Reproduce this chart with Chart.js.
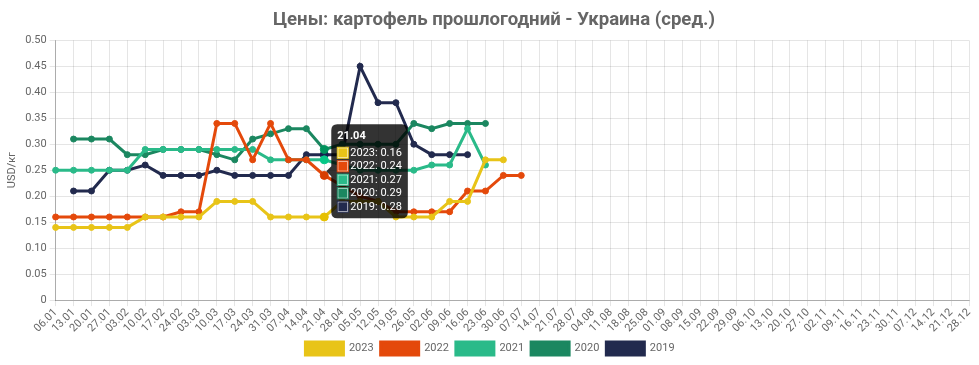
<!DOCTYPE html>
<html>
<head>
<meta charset="utf-8">
<script src="https://cdn.jsdelivr.net/npm/chart.js@4.4.1/dist/chart.umd.min.js"></script>
<style>
html,body{margin:0;padding:0;background:#fff;}
#wrap{width:979px;height:365px;position:relative;}
</style>
</head>
<body>
<div id="wrap"><canvas id="c" width="979" height="365"></canvas></div>
<script>
const categories = ["06.01","13.01","20.01","27.01","03.02","10.02","17.02","24.02","03.03","10.03","17.03","24.03","31.03","07.04","14.04","21.04","28.04","05.05","12.05","19.05","26.05","02.06","09.06","16.06","23.06","30.06","07.07","14.07","21.07","28.07","04.08","11.08","18.08","25.08","01.09","08.09","15.09","22.09","29.09","06.10","13.10","20.10","27.10","02.11","09.11","16.11","23.11","30.11","07.12","14.12","21.12","28.12"];

const yearLabels = ["2023","2022","2021","2020","2019"];

const values2023 = [0.14,0.14,0.14,0.14,0.14,0.16,0.16,0.16,0.16,0.19,0.19,0.19,0.16,0.16,0.16,0.16,0.19,0.19,0.19,0.16,0.16,0.16,0.19,0.19,0.27,0.27];
const values2022 = [0.16,0.16,0.16,0.16,0.16,0.16,0.16,0.17,0.17,0.34,0.34,0.27,0.34,0.27,0.27,0.24,0.22,0.20,0.19,0.17,0.17,0.17,0.17,0.21,0.21,0.24,0.24];
const values2021 = [0.25,0.25,0.25,0.25,0.25,0.29,0.29,0.29,0.29,0.29,0.29,0.29,0.27,0.27,0.27,0.27,0.26,0.25,0.25,0.25,0.25,0.26,0.26,0.33,0.26];
const values2020 = [null,0.31,0.31,0.31,0.28,0.28,0.29,0.29,0.29,0.28,0.27,0.31,0.32,0.33,0.33,0.29,0.30,0.30,0.30,0.30,0.34,0.33,0.34,0.34,0.34];
const values2019 = [null,0.21,0.21,0.25,0.25,0.26,0.24,0.24,0.24,0.25,0.24,0.24,0.24,0.24,0.28,0.28,0.28,0.45,0.38,0.38,0.30,0.28,0.28,0.28];

const yTicks = [0,0.05,0.10,0.15,0.20,0.25,0.30,0.35,0.40,0.45,0.50];

const colors = ["#e8c418","#e4490b","#2aba89","#1b8760","#222a4e"];
const seriesValues = [values2023,values2022,values2021,values2020,values2019];

const datasets = yearLabels.map((lab,i)=>({
  label: lab,
  data: seriesValues[i],
  borderColor: colors[i],
  backgroundColor: colors[i],
  pointBackgroundColor: colors[i],
  pointBorderColor: colors[i],
  borderWidth: 3,
  pointRadius: 3,
  pointHoverRadius: 4,
  pointBorderWidth: 1,
  fill: false,
  tension: 0,
  spanGaps: false
}));

Chart.defaults.font.family = "Roboto, 'Noto Sans', sans-serif";
Chart.defaults.color = "#666";

const shiftPlugin = {
  id: 'shiftBlocks',
  afterLayout(chart) {
    if (chart.titleBlock) { chart.titleBlock.left += 8; chart.titleBlock.right += 8; }
    if (chart.legend) { chart.legend.left += 4; chart.legend.right += 4; }
  }
};

const chart = new Chart(document.getElementById('c'), {
  type: 'line',
  data: { labels: categories, datasets: datasets },
  plugins: [shiftPlugin],
  options: {
    responsive: false,
    animation: false,
    layout: { padding: { left: 3, right: 10, top: 0, bottom: 0 } },
    interaction: { mode: 'index', intersect: false },
    plugins: {
      title: {
        display: true,
        text: 'Цены: картофель прошлогодний - Украина (сред.)',
        font: { size: 18.6, weight: 'bold' },
        color: '#666',
        padding: { top: 9, bottom: 9 }
      },
      legend: {
        position: 'bottom',
        labels: { boxWidth: 38, boxHeight: 13, font: { size: 11 }, color: '#666', padding: 7 }
      },
      tooltip: {
        enabled: true,
        backgroundColor: 'rgba(0,0,0,0.8)',
        titleFont: { size: 11, weight: 'bold', lineHeight: 1 },
        bodyFont: { size: 11, lineHeight: 1 },
        titleMarginBottom: 6,
        bodySpacing: 2.5,
        padding: 6,
        caretSize: 5,
        cornerRadius: 6,
        callbacks: {
          label: (ctx) => ctx.dataset.label + ': ' + ctx.parsed.y.toFixed(2)
        }
      }
    },
    scales: {
      x: {
        grid: { color: 'rgba(0,0,0,0.1)', tickLength: 6 },
        border: { color: 'rgba(0,0,0,0.25)' },
        ticks: { maxRotation: 45, minRotation: 45, autoSkip: false, font: { size: 11 }, color: '#666', padding: 0 }
      },
      y: {
        min: 0, max: 0.5,
        afterBuildTicks: (axis) => { axis.ticks = yTicks.map(v => ({ value: v })); },
        grid: { color: 'rgba(0,0,0,0.1)', tickLength: 6 },
        border: { color: 'rgba(0,0,0,0.25)' },
        ticks: { font: { size: 11 }, color: '#666', padding: 3,
          callback: (v) => v === 0 ? '0' : Number(v).toFixed(2) },
        title: { display: true, text: 'USD/кг', font: { size: 11 }, color: '#666', padding: 3 }
      }
    }
  }
});

const act = datasets.map((d,i)=>({datasetIndex:i,index:15}));
chart.setActiveElements(act);
chart.tooltip.setActiveElements(act, {x: 0, y: 0});
chart.update();
</script>
</body>
</html>
